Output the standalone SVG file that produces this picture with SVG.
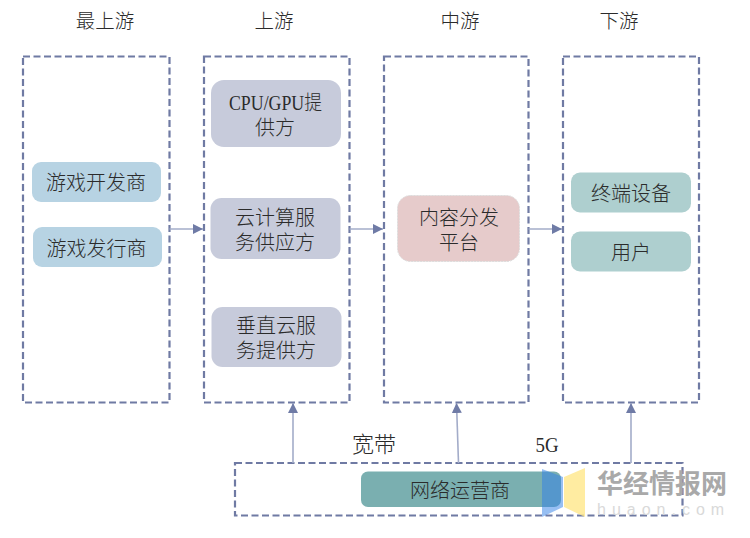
<svg xmlns="http://www.w3.org/2000/svg" width="750" height="538" viewBox="0 0 750 538">
<defs>
<marker id="arr" markerUnits="userSpaceOnUse" markerWidth="11" markerHeight="10" refX="10" refY="5" orient="auto"><path d="M0 0L10 5L0 10Z" fill="#6f7ba6"/></marker>
</defs>
<style>
text{font-family:"Liberation Serif","Noto Sans CJK SC",serif;font-size:20px;fill:#2b2b2b;text-anchor:middle;font-weight:300}
.h{font-size:19.500px}
.big{font-size:22px}
.box{fill:#fff;stroke:#6f7aa3;stroke-width:2.2;stroke-dasharray:7 3.5}
.con{fill:none;stroke:#a3acc9;stroke-width:1.6;marker-end:url(#arr)}
.blue{fill:#b7d3e3}.gray{fill:#c7cbdb}.pink{fill:#e6cbcb;stroke:#ddd;stroke-dasharray:2 1}.teal{fill:#aecfcf}
.wm{font-family:"Noto Sans CJK SC","Liberation Sans",sans-serif;font-weight:700;fill:#a9a9a9;font-size:26px;text-anchor:start}
.wm2{font-family:"Liberation Sans",sans-serif;font-weight:400;fill:#d9d9d9;font-size:16px;letter-spacing:6px;text-anchor:start}
</style>
<g id="col0"><rect class="box" x="23" y="56.500" width="146.500" height="346"/><text class="h" x="105" y="28">最上游</text></g>
<g id="col1"><rect class="box" x="204" y="56.500" width="145.500" height="346"/><text class="h" x="274" y="28">上游</text></g>
<g id="col2"><rect class="box" x="384" y="56.500" width="144.500" height="346"/><text class="h" x="460" y="28">中游</text></g>
<g id="col3"><rect class="box" x="563" y="56.500" width="136" height="346"/><text class="h" x="619" y="28">下游</text></g>
<g id="n1"><rect class="blue" x="32" y="162" width="129" height="40" rx="9"/><text x="96" y="190">游戏开发商</text></g>
<g id="n2"><rect class="blue" x="33" y="227" width="129" height="40" rx="9"/><text x="96.500" y="256">游戏发行商</text></g>
<g id="n3"><rect class="gray" x="211" y="80" width="130" height="67" rx="13"/><text x="275.500" y="110" textLength="93" lengthAdjust="spacingAndGlyphs">CPU/GPU提</text><text x="275" y="135">供方</text></g>
<g id="n4"><rect class="gray" x="210.500" y="198" width="130" height="61" rx="11"/><text x="275" y="225">云计算服</text><text x="275" y="250">务供应方</text></g>
<g id="n5"><rect class="gray" x="211.500" y="307" width="130" height="60" rx="11"/><text x="276" y="333">垂直云服</text><text x="276" y="358">务提供方</text></g>
<g id="n6"><rect class="pink" x="397.500" y="195.500" width="122" height="66" rx="13"/><text x="459" y="225">内容分发</text><text x="459" y="250">平台</text></g>
<g id="n7"><rect class="teal" x="571" y="172.500" width="120" height="40" rx="9"/><text x="631" y="201">终端设备</text></g>
<g id="n8"><rect class="teal" x="571" y="231.500" width="120" height="40" rx="9"/><text x="631" y="260">用户</text></g>
<g id="n9"><rect class="box" x="235" y="463" width="447.500" height="52.500" style="fill:none"/><rect x="361" y="471.500" width="200" height="35.500" rx="7" fill="#7aafb0"/><text x="460" y="498">网络运营商</text></g>
<g id="lbl"><text class="big" x="374" y="452">宽带</text><text class="big" x="547" y="452" textLength="23" lengthAdjust="spacingAndGlyphs">5G</text></g>
<g id="connectors">
<line class="con" x1="169.500" y1="229" x2="203" y2="229"/>
<line class="con" x1="349.500" y1="229" x2="383" y2="229"/>
<line class="con" x1="528.500" y1="229" x2="562" y2="229"/>
<line class="con" x1="293" y1="463" x2="293" y2="403"/>
<line class="con" x1="458.500" y1="463" x2="456.500" y2="403"/>
<line class="con" x1="631" y1="463" x2="631" y2="403"/>
</g>
<g id="watermark">
<path d="M542 469L563 477V507L542 517Z" fill="#2f80e8" fill-opacity=".5"/>
<path d="M564 477L585 468V517L564 507Z" fill="#ffe78a" fill-opacity=".8"/>
<text class="wm" x="597" y="493">华经情报网</text>
<text class="wm2" x="597" y="514.500">huaon.com</text>
</g>
</svg>
